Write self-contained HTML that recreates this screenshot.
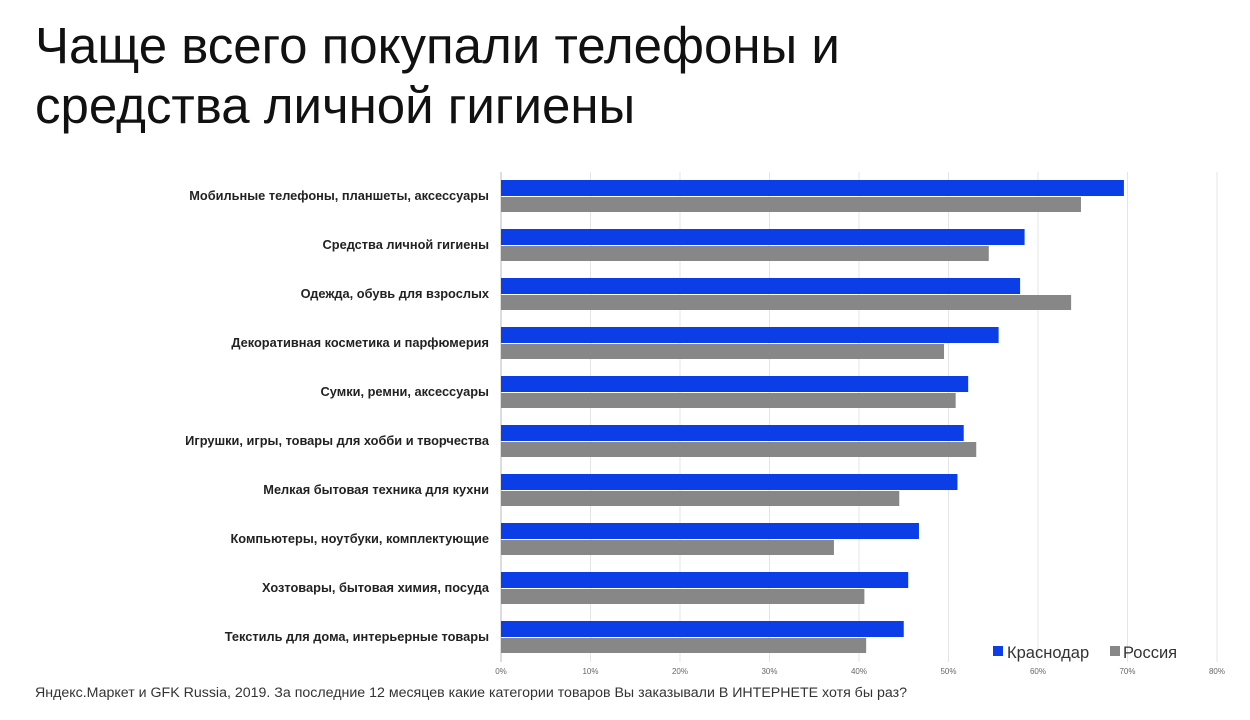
<!DOCTYPE html>
<html><head><meta charset="utf-8"><style>
body{margin:0;width:1250px;height:720px;background:#fff;overflow:hidden;font-family:"Liberation Sans",sans-serif;}
#title{position:absolute;left:35px;top:16px;font-size:51px;line-height:60px;color:#111;margin:0;font-weight:normal;}
#foot{position:absolute;left:35px;top:685px;font-size:14.2px;color:#333;}
svg{position:absolute;left:0;top:0;}
</style></head><body>
<h1 id="title">Чаще всего покупали телефоны и<br>средства личной гигиены</h1>
<div id="foot">Яндекс.Маркет и GFK Russia, 2019. За последние 12 месяцев какие категории товаров Вы заказывали В ИНТЕРНЕТЕ хотя бы раз?</div>
<svg id="chart" width="1250" height="720"></svg>
<script>
const categories=["Мобильные телефоны, планшеты, аксессуары","Средства личной гигиены","Одежда, обувь для взрослых","Декоративная косметика и парфюмерия","Сумки, ремни, аксессуары","Игрушки, игры, товары для хобби и творчества","Мелкая бытовая техника для кухни","Компьютеры, ноутбуки, комплектующие","Хозтовары, бытовая химия, посуда","Текстиль для дома, интерьерные товары"];
const krasnodar=[69.6,58.5,58,55.6,52.2,51.7,51,46.7,45.5,45];
const russia=[64.8,54.5,63.7,49.5,50.8,53.1,44.5,37.2,40.6,40.8];
const ticks=[0,10,20,30,40,50,60,70,80];
const tickLabels=["0%","10%","20%","30%","40%","50%","60%","70%","80%"];
const NS="http://www.w3.org/2000/svg";
const svg=document.getElementById('chart');
const x=v=>501+v*(1217-501)/80;
const y=i=>196+i*49;
function mk(t,a,p){const e=document.createElementNS(NS,t);for(const k in a)e.setAttribute(k,a[k]);(p||svg).appendChild(e);return e;}
ticks.forEach((t,i)=>{
 const g=mk('line',{x1:x(t),x2:x(t),y1:172,y2:662,stroke:i==0?'#bbb':'#e4e4e4','stroke-width':1});
 
 
 const l=mk('text',{x:x(t),y:674,'font-size':8,fill:'#666','text-anchor':'middle'});
 l.textContent=tickLabels[i];
 
 
});
categories.forEach((c,i)=>{
 const l=mk('text',{x:489,y:y(i)+4,'font-size':12.8,'font-weight':'bold',fill:'#222','text-anchor':'end'});
 l.textContent=c;
 
 
 const b=mk('rect',{x:x(0),y:y(i)-16,width:x(krasnodar[i])-x(0),height:16,fill:'#0b3ee6'});
 
 
 const r=mk('rect',{x:x(0),y:y(i)+1,width:x(russia[i])-x(0),height:15,fill:'#878787'});
 
 
});
const lg=mk('g',{});


const s1=mk('rect',{x:993,y:646,width:10,height:10,fill:'#0b3ee6'},lg);


const t1=mk('text',{x:1007,y:658,'font-size':16.5,fill:'#333'},lg);t1.textContent='Краснодар';


const s2=mk('rect',{x:1110,y:646,width:10,height:10,fill:'#878787'},lg);


const t2=mk('text',{x:1123,y:658,'font-size':16.5,fill:'#333'},lg);t2.textContent='Россия';


</script>
</body></html>
